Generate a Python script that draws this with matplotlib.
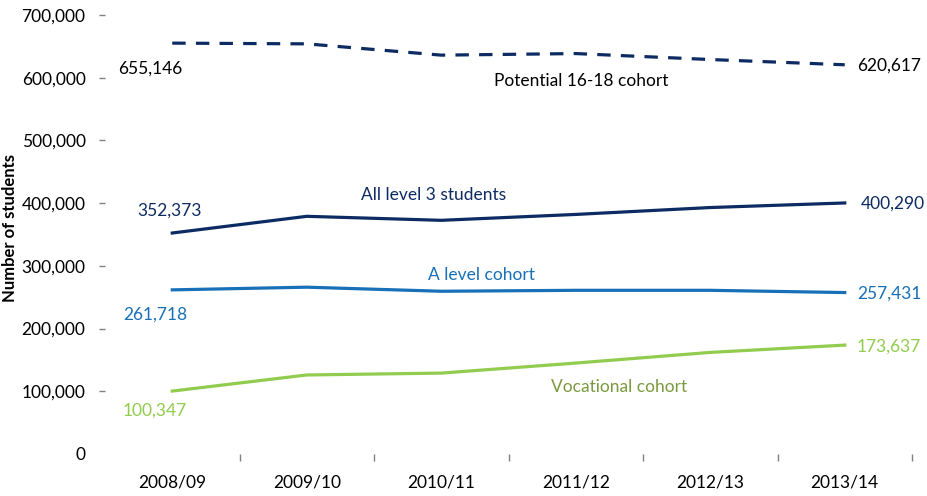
import matplotlib
matplotlib.use("Agg")
import matplotlib.pyplot as plt
from matplotlib.ticker import FuncFormatter

plt.rcParams['font.family'] = ['Lato', 'DejaVu Sans']

years = ["2008/09", "2009/10", "2010/11", "2011/12", "2012/13", "2013/14"]
potential = [655146, 654000, 636000, 638500, 629000, 620617]
all_level3 = [352373, 379000, 372600, 382000, 393000, 400290]
a_level = [261718, 266000, 259500, 261000, 261000, 257431]
vocational = [100347, 126000, 129000, 145000, 162000, 173637]

navy = "#0d2b63"
blue = "#1770b8"
green = "#92cc4e"
olive = "#7a9a3e"

fig = plt.figure(figsize=(9.27, 4.96), dpi=100)
ax = fig.add_axes([105/927, 1-454/496, (912-105)/927, (454-15)/496])

x = list(range(len(years)))
ax.plot(x, potential, color=navy, lw=2.3, dashes=(4.2, 3.2))
ax.plot(x, all_level3, color=navy, lw=2.3)
ax.plot(x, a_level, color=blue, lw=2.3)
ax.plot(x, vocational, color=green, lw=2.3)

ax.set_xlim(-0.5, 5.5)
ax.set_ylim(0, 700000)
for s in ax.spines.values():
    s.set_visible(False)

fs = 12.5

ax.set_yticks(range(0, 700001, 100000))
ax.yaxis.set_major_formatter(FuncFormatter(lambda v, p: f"{int(v):,}"))
ax.tick_params(axis='y', length=4, width=1, color="#808080", labelsize=fs, pad=10)
ax.yaxis.get_major_ticks()[0].tick1line.set_visible(False)

ax.set_xticks(x)
ax.set_xticklabels(years)
ax.set_xticks([i + 0.5 for i in x], minor=True)
ax.tick_params(axis='x', which='major', length=0, labelsize=fs, pad=15)
ax.tick_params(axis='x', which='minor', length=5, width=1, color="#808080")

fig.text(10/927, 1-228/496, "Number of students", rotation=90, ha='center', va='center',
         fontsize=12, fontweight='bold', color="black")

ax.text(-0.165, 614000, "655,146", ha='center', va='center', fontsize=fs, color="black")
ax.text(5.33, 618700, "620,617", ha='center', va='center', fontsize=fs, color="black")
ax.text(3.04, 594800, "Potential 16-18 cohort", ha='center', va='center', fontsize=fs, color="black")
ax.text(1.94, 413000, "All level 3 students", ha='center', va='center', fontsize=fs, color=navy)
ax.text(-0.017, 387500, "352,373", ha='center', va='center', fontsize=fs, color=navy)
ax.text(5.36, 398600, "400,290", ha='center', va='center', fontsize=fs, color=navy)
ax.text(2.30, 285400, "A level cohort", ha='center', va='center', fontsize=fs, color=blue)
ax.text(-0.128, 223000, "261,718", ha='center', va='center', fontsize=fs, color=blue)
ax.text(5.33, 255000, "257,431", ha='center', va='center', fontsize=fs, color=blue)
ax.text(3.32, 106800, "Vocational cohort", ha='center', va='center', fontsize=fs, color=olive)
ax.text(-0.128, 68600, "100,347", ha='center', va='center', fontsize=fs, color=green)
ax.text(5.33, 172000, "173,637", ha='center', va='center', fontsize=fs, color=green)

fig.savefig("out.png", dpi=100)
